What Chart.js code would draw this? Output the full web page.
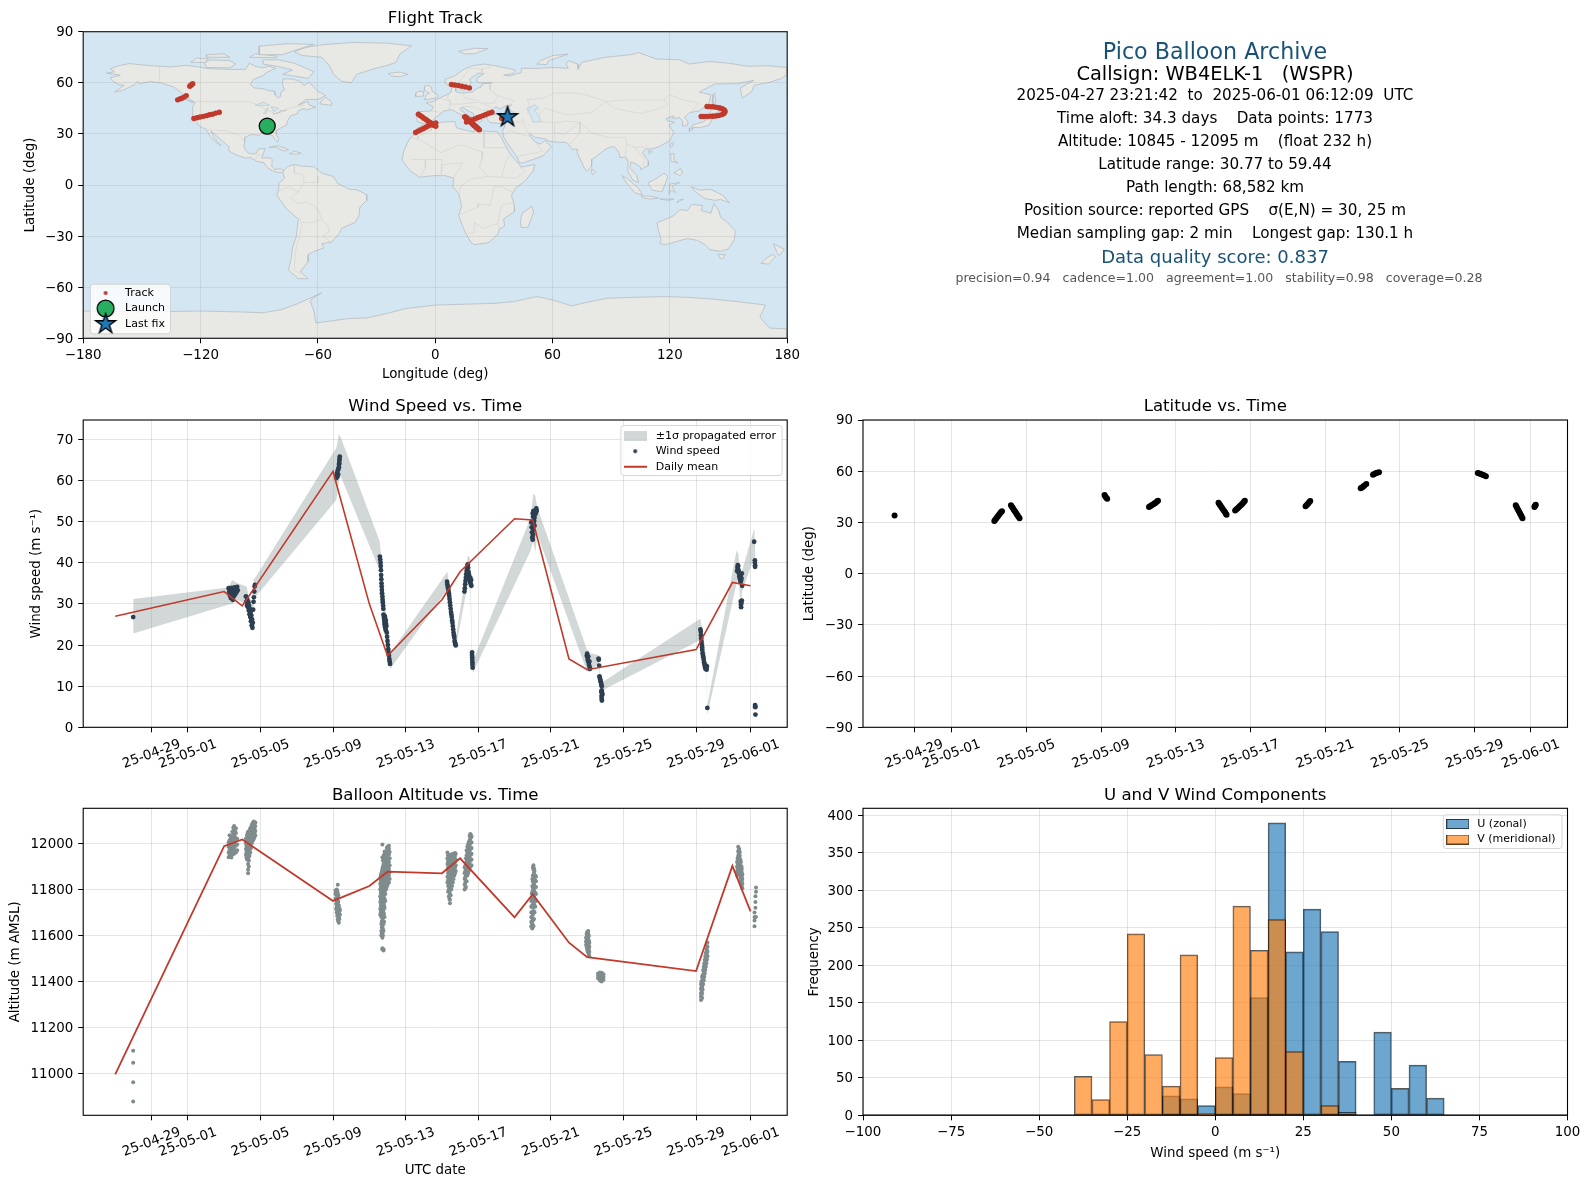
<!DOCTYPE html>
<html><head><meta charset="utf-8">
<style>
html,body{margin:0;padding:0;background:#fff;overflow:hidden;width:1589px;height:1189px;font-family:"DejaVu Sans",sans-serif}
canvas{position:absolute}
.info{position:absolute;left:815px;width:800px;text-align:center;white-space:pre;transform:translateY(-50%);line-height:1}
</style>
<script src="https://cdn.jsdelivr.net/npm/chart.js@4/dist/chart.umd.min.js"></script>
</head><body>
<script>
/* ---------- tick labels ---------- */
const dateTickValues=[-2,0,4,8,12,16,20,24,28,31];
const dateTickLabels=['25-04-29','25-05-01','25-05-05','25-05-09','25-05-13','25-05-17','25-05-21','25-05-25','25-05-29','25-06-01'];
const lonTicks=[-180,-120,-60,0,60,120,180];
const latTicks=[-90,-60,-30,0,30,60,90];
const windTicks=[0,10,20,30,40,50,60,70];
const altTicks=[11000,11200,11400,11600,11800,12000];
const histXTicks=[-100,-75,-50,-25,0,25,50,75,100];
const histYTicks=[0,50,100,150,200,250,300,350,400];

/* ---------- daily means (days since 2025-05-01) ---------- */
const dailyDay=[-4,2,3,8,10,11,14,15,18,19,21,22,28,30,31];
const dailyWind=[27.0,33.0,29.5,62.2,30.0,17.4,31.0,37.8,50.7,50.4,16.6,14.0,18.9,35.2,34.4];
const dailyAlt=[10998,11988,12017,11750,11815,11877,11870,11935,11679,11779,11569,11506,11446,11902,11705];

/* ---------- wind speed samples ---------- */
const windTime=[-3.01,
2.25,2.28,2.32,2.35,2.38,2.42,2.45,2.48,2.52,2.55,2.58,2.62,2.65,2.68,2.72,2.75,
3.2,3.22,3.26,3.28,3.32,3.34,3.36,3.38,3.4,3.42,3.44,3.46,3.48,3.5,3.52,3.54,3.56,3.58,3.6,3.62,3.64,3.66,3.68,3.7,
8.18,8.2,8.22,8.24,8.26,8.28,8.3,8.32,8.33,8.34,8.35,8.36,8.37,
10.58,10.6,10.62,10.63,10.64,10.65,10.66,10.67,10.68,10.69,10.7,10.72,10.73,10.74,10.76,10.77,10.78,10.8,10.82,10.83,10.84,10.85,10.86,10.87,10.88,10.89,10.9,10.91,10.92,10.94,10.96,10.98,11.0,11.02,11.04,11.06,11.08,11.1,11.12,11.14,
14.28,14.3,14.32,14.34,14.36,14.38,14.4,14.42,14.44,14.46,14.48,14.5,14.52,14.54,14.56,14.58,14.6,14.62,14.64,14.66,14.68,14.7,14.72,14.74,14.76,
15.24,15.26,15.28,15.3,15.32,15.34,15.36,15.38,15.4,15.42,15.44,15.46,15.48,15.5,15.52,15.54,15.56,15.58,15.6,15.61,15.62,
15.66,15.66,15.67,15.67,15.68,15.68,15.69,
18.92,18.94,18.96,18.98,19,19.02,19.04,19.06,19.08,19.1,19.12,19.14,19.16,19.18,19.2,19.22,19.0,19.02,19.04,19.06,19.08,19.1,
21.98,22,22.02,22.04,22.06,22.08,22.1,22.12,22.14,22.15,
22.63,22.64,22.66,22.68,22.7,22.72,22.74,22.76,22.78,22.8,22.8,22.82,22.84,22.78,22.79,22.8,22.81,
28.24,28.26,28.27,28.28,28.3,28.32,28.33,28.34,28.36,28.38,28.4,28.42,28.44,28.46,28.48,28.5,28.52,28.54,28.56,28.58,28.6,28.62,
30.26,30.28,30.3,30.32,30.34,30.36,30.38,30.4,30.42,30.44,30.46,30.48,30.5,30.52,30.54,30.46,30.47,30.48,30.5,30.52,
31.2,31.24,31.24,31.25,31.25,31.25,31.26,31.26,31.27];
const windSpeed=[26.8,
33.8,32.9,32,33.5,31.4,33.9,32.6,31,33.2,31.9,34,32.4,33.6,32.8,34.1,33.3,
31.8,30.5,29.6,31,29.2,30.4,28.4,29.6,27.5,28.8,26.8,28,25.8,27.2,24.8,26.2,24.2,25.4,28.6,30.5,31.6,33,34.2,34.6,
60.6,61.2,61.8,60.9,62.4,61.5,62.8,63.2,63.8,64.2,64.8,65.3,65.8,
41.5,40.8,40,39.2,38.2,37,36,35,34.2,33.4,32.6,31.8,31,30.4,29.6,28.8,27.4,26.8,26.2,25.6,25,27,24.4,26.4,25.8,24,26,23.6,25.2,24.6,23,22,21,20,19,18.2,17.4,16.6,16,15.4,
35.4,34.8,34.2,33.8,33.2,32.6,32,31.2,30.4,29.6,28.8,28,27.4,26.8,26,25.4,24.6,23.8,23,22.4,21.8,21,20.6,20.2,19.9,
33,33.8,34.8,35.6,36.4,37.2,38,38.6,39.2,39.6,38.8,37.8,37.2,36.6,36,35.4,36.4,35,34.6,35.8,34.4,
18.2,17.6,17,16.4,15.8,15.2,14.5,
49.8,48.6,47.4,46.2,45.6,46.8,48,49.2,50.2,51,51.8,52.4,52,52.8,53.2,52.6,52,51.2,52.6,50,51.6,49,
17.4,17.9,16.9,16.3,17.2,15.8,15.2,16,14.6,14.2,
16.7,16.4,15,12.4,12,11.6,11.2,10.8,10.4,10,9,8.4,8,8.6,7.6,7,6.5,
23.8,23.2,22.4,21.6,20.8,20,19.4,18.8,18,17.4,17,16.4,15.8,15.4,15,14.6,14.2,15,14.4,14,14.8,4.7,
38,38.8,39.4,39.2,38.2,37.4,36.6,37,36,35.4,36.8,35.6,36.2,37.4,34.4,30.6,29.8,29.2,30.2,30.8,
45.1,40.6,40,39.4,39,5.4,5.1,4.9,3.1];

/* ---------- propagated-error envelope ---------- */
const bandTime=[-3.01,2.22,2.45,2.73,3.24,3.38,3.52,3.63,3.69,8.19,8.33,8.42,10.58,10.72,10.86,11.0,11.15,14.3,14.5,14.75,15.28,15.42,15.56,15.65,15.7,18.89,19.03,19.14,19.25,21.98,22.15,22.63,22.71,22.8,22.85,28.23,28.4,28.57,28.62,30.23,30.34,30.48,30.53,31.21,31.26,31.27];
const bandUpper=[31.2,34,35.8,35,34.2,31,29,36,36.2,68,71.3,70.5,45.1,38,30,25,18,37.8,31,21.5,36,41.8,41,20,16,51,56.8,56.3,53.5,19,18,17.6,13.2,11,11,26.4,22.5,16,5.4,43,42,33,38,48.4,43,7];
const bandLower=[22.8,29.8,30,31,29.7,26,23.2,30,31.5,55.3,60,61,38,31,24,19,14.2,33.5,27,19,31.5,36,33.5,16.5,13.2,43,45.2,42.5,47,13.6,13.5,15.6,11,5.8,9,21.2,17.5,13,3,35,36.5,28,33,41.5,36.5,2.4];

/* ---------- altitude samples: [day, [altitudes]] ---------- */
const altFirst=[[-3.01,[11100,11048,10963,10880]]];
const altMay3=[[2.25,[11940,11960,11985,12005]],[2.35,[11945,11970,11995,12020]],[2.45,[11950,11975,12000,12025,12050]],[2.55,[11955,11980,12010,12035,12060,12075]],[2.65,[11960,11990,12020,12045,12065]],[2.72,[11970,11995,12020]],[2.3,[11950,11972,11990,12012,12035]],[2.4,[11938,11958,11982,12008,12030]],[2.5,[11965,11988,12012,12040,12068]],[2.6,[11968,12000,12028,12052]]];
const altMay4=[[3.2,[11950,11975,12000,12020]],[3.26,[11930,11955,11985,12010,12035]],[3.32,[11870,11885,11910,11935,11965,11990,12020,12050]],[3.4,[11945,11970,12000,12030,12055]],[3.48,[11980,12005,12030,12050,12070]],[3.56,[12010,12030,12050,12070,12085]],[3.64,[12020,12040,12060,12080,12095]],[3.72,[12035,12055,12075,12090]],[3.23,[11940,11962,11988,12012]],[3.29,[11945,11975,12000,12028,12045]],[3.36,[11900,11925,11955,11985,12010,12040]],[3.44,[11960,11990,12015,12045,12065]],[3.52,[12000,12022,12042,12062,12080]],[3.6,[12015,12035,12058,12078,12092]],[3.68,[12028,12048,12068,12088]]];
const altMay9=[[8.14,[11760,11780,11795]],[8.2,[11700,11725,11750,11775,11800]],[8.26,[11670,11690,11715,11740,11765,11785,11820]],[8.32,[11655,11680,11705,11730]],[8.38,[11690,11710]],[8.17,[11715,11738,11762,11788]],[8.23,[11685,11708,11732,11758,11795]],[8.29,[11662,11698,11722,11748,11775]],[8.35,[11672,11695,11718]]];
const altMay11=[[10.6,[11690,11715,11745,11770,11800,11825,11850]],[10.66,[11600,11620,11650,11680,11705,11735,11760,11790,11820,11845,11870]],[10.72,[11540,11545,11590,11610,11640,11665,11690,11720,11750,11780,11810,11840,11865,11890,11940,11995]],[10.78,[11535,11540,11620,11650,11680,11710,11740,11770,11800,11830,11860,11885,11910,11935]],[10.84,[11680,11720,11760,11790,11815,11840,11865,11890,11915,11945,11965]],[10.92,[11800,11825,11850,11875,11900,11925,11950]],[11.0,[11820,11845,11870,11895,11920,11945,11970,11985]],[11.08,[11830,11860,11890,11920,11950,11975,11990]],[10.63,[11700,11728,11758,11785,11812,11838,11860]],[10.69,[11610,11635,11662,11695,11725,11752,11782,11812,11835,11858,11880]],[10.75,[11600,11628,11655,11675,11702,11735,11765,11795,11822,11850,11875,11900,11925]],[10.81,[11660,11695,11730,11755,11785,11815,11845,11872,11898,11925,11950]],[10.88,[11750,11780,11805,11832,11858,11882,11908,11932,11958]],[10.96,[11810,11838,11862,11888,11912,11938,11962,11980]],[11.04,[11828,11852,11882,11908,11932,11958,11982]],[11.12,[11845,11875,11905,11935,11962]]];
const altMay15=[[14.3,[11830,11855,11885,11910,11935,11960]],[14.38,[11770,11800,11825,11850,11880,11905,11930]],[14.44,[11740,11755,11780,11810,11840,11865,11895,11920,11945]],[14.52,[11800,11830,11860,11890,11915,11940]],[14.6,[11830,11860,11885,11910,11935,11955]],[14.68,[11860,11885,11910,11935,11955]],[14.76,[11880,11905,11930,11955]],[14.34,[11790,11815,11840,11870,11895,11922,11948]],[14.41,[11760,11790,11815,11845,11872,11900,11925,11950]],[14.48,[11775,11815,11850,11878,11905,11930,11950]],[14.56,[11815,11845,11872,11900,11925,11948]],[14.64,[11845,11872,11898,11922,11945]],[14.72,[11870,11895,11920,11945,11958]]];
const altMay16=[[15.25,[11800,11820,11845,11870,11895]],[15.32,[11810,11835,11860,11885,11910,11935]],[15.4,[11860,11885,11910,11935,11960,11985]],[15.48,[11880,11905,11930,11955,11980,12005]],[15.56,[11900,11925,11950,11975,12000,12020,12040]],[15.63,[11905,11930,11955,11980,12005,12030]],[15.28,[11805,11828,11852,11878,11902]],[15.36,[11835,11872,11898,11922,11948,11970]],[15.44,[11870,11895,11920,11945,11970,11995]],[15.52,[11890,11915,11940,11965,11990,12012,12032]],[15.6,[11902,11928,11952,11978,12002,12025,12036]]];
const altMay20=[[18.92,[11640,11660,11680,11700,11725,11750]],[18.98,[11630,11650,11675,11700,11730,11760,11790,11815,11845]],[19.04,[11640,11670,11700,11740,11770,11800,11830,11860,11885,11905]],[19.1,[11700,11730,11760,11790,11815,11840,11860,11880]],[19.18,[11750,11780,11810,11835,11855]],[18.95,[11635,11655,11678,11702,11728,11755,11782]],[19.01,[11645,11665,11690,11720,11750,11780,11808,11835,11860,11895]],[19.07,[11672,11705,11735,11765,11795,11825,11850,11872,11892]],[19.14,[11725,11755,11785,11812,11838,11860]]];
const altMay23=[[21.94,[11560,11575,11590]],[22.0,[11540,11560,11580,11600,11615]],[22.06,[11525,11545,11565,11585,11605,11620]],[22.12,[11510,11530,11550,11570]],[21.97,[11550,11570,11590,11608]],[22.03,[11532,11552,11572,11592,11612]],[22.09,[11518,11538,11558,11578,11598]],[22.6,[11415,11425,11435]],[22.7,[11405,11418,11430,11440]],[22.8,[11400,11412,11425,11438]],[22.9,[11408,11420,11432]]];
const altMay29=[[28.27,[11320,11335,11350,11370,11390]],[28.33,[11330,11350,11375,11400,11420]],[28.39,[11390,11410,11430,11450]],[28.45,[11420,11440,11460,11480]],[28.51,[11450,11470,11490,11510]],[28.57,[11480,11500,11520,11540]],[28.63,[11510,11530,11550,11570]],[28.3,[11325,11342,11360,11382,11402]],[28.36,[11365,11385,11408,11428]],[28.42,[11405,11425,11445,11465]],[28.48,[11435,11455,11475,11495]],[28.54,[11465,11485,11505,11525]],[28.6,[11495,11515,11535,11555]]];
const altMay31=[[30.26,[11860,11880,11900,11920]],[30.32,[11880,11905,11925,11945,11965,11985]],[30.38,[11890,11915,11935,11955,11975]],[30.44,[11850,11870,11890,11910,11930]],[30.5,[11820,11840,11860,11880,11900]],[30.55,[11805,11825,11845,11865]],[30.29,[11870,11892,11912,11935]],[30.35,[11885,11910,11930,11952,11972]],[30.41,[11870,11895,11920,11945,11962]],[30.47,[11835,11858,11880,11900,11920]],[30.52,[11812,11832,11852,11872,11890]]];
const altJun1=[[31.22,[11640,11665,11680,11700]],[31.27,[11720,11745,11770]],[31.3,[11680,11790,11808]]];

/* ---------- latitude samples + matching track longitudes ---------- */
const latTime=[-3.05,2.29,2.34,2.39,2.44,2.49,2.54,2.59,2.64,2.7,3.18,3.23,3.28,3.33,3.38,3.43,3.48,3.53,3.58,3.64,8.19,8.23,8.28,8.33,10.57,10.63,10.69,10.75,10.81,10.87,10.93,10.99,11.05,14.29,14.34,14.39,14.44,14.49,14.54,14.59,14.64,14.69,14.72,15.18,15.24,15.3,15.36,15.42,15.48,15.54,15.6,15.65,15.7,18.95,19,19.05,19.1,19.15,19.2,21.9,21.97,22.04,22.1,22.2,22.56,22.63,22.7,22.78,22.88,28.17,28.25,28.33,28.42,28.5,28.6,30.2,30.24,30.28,30.32,30.36,30.4,30.44,30.48,30.52,30.56,31.2,31.22,31.25,31.27];
const latValue=[34,30.8,31.6,32.3,33,33.8,34.5,35.2,35.9,36.5,40,39.2,38.4,37.5,36.7,35.9,35,34.2,33.3,32.5,46,45.2,44.5,43.8,39,39.5,39.9,40.3,40.7,41.2,41.6,42.2,42.7,41.5,40.7,39.9,39.1,38.3,37.5,36.7,35.9,35,34.5,37,37.6,38.2,38.8,39.5,40.1,40.7,41.4,42.1,42.7,39.5,40,40.6,41.2,41.9,42.5,50,50.5,51,51.6,52.5,58,58.4,58.8,59.1,59.4,59,58.7,58.4,58,57.6,57,40,39.2,38.3,37.5,36.7,35.8,35,34.2,33.3,32.5,39,39.5,40,40.4];
const trackLon=[null,-10,-8.8,-7.5,-6.2,-5,-3.8,-2.5,-1.2,0.3,15.5,16.3,17,17.8,18.6,19.4,20.2,21,21.8,22.6,null,null,null,null,-123.4,-121.8,-120.2,-118.6,-117,-115.4,-113.8,-112.2,-110.4,-8.6,-7.6,-6.6,-5.6,-4.6,-3.6,-2.6,-1.6,-0.6,0.3,16,17.4,18.8,20.2,21.6,23,24.4,25.8,27.4,29,null,null,null,null,null,null,-131.7,-130.6,-129.5,-128.4,-127.3,-125.5,-125.1,-124.8,-124.4,-124,8.3,10,11.8,13.6,15.5,17.5,15,15.8,16.6,17.4,18.2,19,19.8,20.6,21.4,22.3,34,35,36,37];
const japanLon=[136,137.5,139,140.5,142,143.5,145,146.5,147.5,148,148.2,147.8,147,146,145,143.5,142,140.5,139];
const japanLat=[40.2,40.2,40.3,40.3,40.4,40.5,40.8,41.3,41.9,42.6,43.3,44,44.6,45.1,45.4,45.7,45.9,46,46.1];
const launchPos=[{x:-85.9,y:34.6}];
const lastFixPos=[{x:37,y:39.9}];

/* ---------- histogram ---------- */
const histCentres=[-97.5,-92.5,-87.5,-82.5,-77.5,-72.5,-67.5,-62.5,-57.5,-52.5,-47.5,-42.5,-37.5,-32.5,-27.5,-22.5,-17.5,-12.5,-7.5,-2.5,2.5,7.5,12.5,17.5,22.5,27.5,32.5,37.5,42.5,47.5,52.5,57.5,62.5,67.5,72.5,77.5,82.5,87.5,92.5,97.5];
const histU=[0,0,0,0,0,0,0,0,0,0,0,0,0,0,0,0,0,26,22,13,38,29,157,390,218,275,245,72,0,111,36,67,23,0,0,0,0,0,0,0];
const histV=[0,0,0,0,0,0,0,0,0,0,0,0,52,21,125,242,81,39,214,2,77,279,220,261,85,0,13,4,0,0,0,0,0,0,0,0,0,0,0,0];

/* ---------- base map: [lon,lat] outlines ---------- */
const landNorthAmerica=[[-168,65.6],[-164,66.5],[-166,68.3],[-162,70],[-156.5,71.3],[-150,70.5],[-141,69.7],[-135,69.3],[-128,70.2],[-124,69.8],[-115,68.2],[-108,68],[-102,67.8],[-97,68],[-95,71.5],[-92,69.7],[-88,68.8],[-85,69.7],[-81.5,68.5],[-86,66.3],[-88,64.2],[-93,62],[-94.5,59],[-92.5,57],[-88,56.5],[-85,55.3],[-82.3,55.1],[-82,52.9],[-80,51.2],[-79,52],[-79,54.5],[-77,56],[-78,58.5],[-78,62.3],[-73,62.2],[-69.5,61],[-67,58.5],[-64.5,60.2],[-62,57.5],[-60,55],[-56,52.5],[-60,50.2],[-66,50.2],[-70,47],[-65,49],[-64.5,47],[-61,45.7],[-66,44],[-67,45],[-70,43.5],[-70.5,41.7],[-74,40.6],[-75.5,37.5],[-76,35],[-78.5,33.8],[-81,32],[-81.3,30],[-80,26.8],[-80.5,25.2],[-82,26.8],[-83,29],[-85,29.7],[-89,30.2],[-90,29.2],[-94,29.6],[-97.3,28],[-97.5,25],[-97.8,22.2],[-96,19],[-94,18.2],[-91.5,18.5],[-90.5,21],[-87,21.5],[-88,18],[-88.8,15.9],[-84,15.8],[-83.3,14.9],[-83.6,11],[-82,9],[-79.5,9.6],[-77.3,8.6],[-78,7.3],[-80.5,7.3],[-83,8.3],[-85.7,10],[-87.5,13],[-91.5,14],[-94.5,16.2],[-97,15.8],[-101.5,17.5],[-105.5,20],[-105.5,22.5],[-109,26],[-112.5,29.5],[-114.8,31.7],[-112.5,27],[-109.5,23],[-112,25],[-115,28.5],[-117,32.5],[-120.5,34.5],[-122.5,37.5],[-124.2,40.3],[-124,46],[-122.7,48.5],[-125,50],[-128,52.5],[-130.5,54.7],[-133.5,57.5],[-137,58.7],[-140,59.8],[-146,60.8],[-151,59.3],[-152,60.8],[-154,58.7],[-160,55.5],[-164,54.6],[-159,58.5],[-162,59],[-165,61],[-166,63],[-161,64.5]];
const landGreenland=[[-72,78.2],[-66,80.8],[-58,82.3],[-42,83.7],[-25,83.3],[-12,81.7],[-18,77],[-20,72],[-25,70],[-32,68],[-40,65],[-43,60],[-48,61],[-52,65],[-54,70],[-58,75],[-68,76]];
const landBaffin=[[-80,73.5],[-72,71.5],[-67,69],[-62,66.5],[-65,62.5],[-72,64],[-78,65],[-73,67.5],[-80,69.5],[-88,71],[-88,73.5]];
const landVictoria=[[-117,69],[-105,68.8],[-102,71],[-105,73],[-115,73.5],[-118,71.5]];
const landEllesmere=[[-90,76.5],[-78,76.5],[-72,79],[-62,82.5],[-75,83],[-90,81.5]];
const landBanks=[[-125,72],[-118,72],[-116,74],[-122,74.5]];
const landDevon=[[-95,75],[-81,74.7],[-81,75.7],[-92,77]];
const landMelville=[[-117,75],[-105,75],[-108,77],[-117,76.5]];
const landNewfoundland=[[-59,47.7],[-53,46.7],[-53,48.7],[-56,51.5],[-58,49.5]];
const landVancouver=[[-128,50.7],[-123.5,48.4],[-125,48.7]];
const landCuba=[[-85,22],[-80,23],[-75,20.7],[-77.5,19.9],[-82,22.5]];
const landHispaniola=[[-74.5,18.3],[-72,19.9],[-68.5,18.6],[-71,18]];
const landSouthAmerica=[[-77.3,8.6],[-75.5,10.8],[-72,12],[-68,11],[-62,10.7],[-58,7],[-52,5],[-50,1],[-44,-2.5],[-40,-2.8],[-35.2,-5.5],[-35,-9],[-38.5,-13],[-39,-18],[-41,-22],[-48,-25.5],[-48.7,-28],[-53,-33.5],[-58,-34.5],[-57,-37],[-62,-39],[-65,-41],[-65,-45],[-69,-51],[-65,-55],[-70,-55],[-75,-50],[-73.5,-42],[-73,-37],[-71,-30],[-70,-20],[-76,-14],[-81,-6],[-80,-2.5],[-80,1],[-77,4],[-78,7.3]];
const landAfrica=[[-6,35.8],[-2,35.2],[3,36.9],[10,37.3],[11,33.5],[15,32.3],[20,31],[20,32.8],[25,31.7],[32,31.2],[32.5,30],[34,27.5],[35.5,24],[37,21],[38.5,18],[43,12],[44,10.5],[51,12],[50,8],[46,2.5],[41,-2],[39,-6],[40.5,-12],[40.5,-15.5],[35,-20],[35.5,-24],[32.7,-26],[32,-29],[27,-34],[20,-35],[18.2,-33.5],[15,-27],[12,-18],[13.5,-12],[12,-5],[9,-1],[9.5,4],[5,5.5],[0,5.5],[-5,5],[-8,4.5],[-13,8.5],[-17,14.7],[-16,20],[-13,27.5],[-10,30],[-9.5,33]];
const landEurasia=[[-9,37],[-9.5,39],[-9,43],[-2,43.5],[-1,46],[-4.7,48.3],[-1.5,48.8],[1.5,50.5],[4,52],[7,53.5],[8.5,55],[8.2,57],[10.6,57.7],[10.5,55],[12,54.2],[14,54],[19,54.5],[21,56.5],[23.5,57.5],[24,59.3],[29,60],[23,60],[21,61],[21.5,63],[25,65.3],[22,65.7],[17.5,62],[18.5,60],[16.5,57],[14,55.5],[12.8,56],[11,59],[8,58],[5.2,59.5],[5,62],[10,64],[14,67.5],[19,70],[25,71],[31,70],[41,67.5],[40,65.5],[35,64.5],[38,64],[44,66],[44,68.5],[53,68.5],[60,69],[68,68.5],[67,71],[68,73],[73,71],[73,68],[75,72],[81,73.5],[87,75],[100,76.5],[104,77.7],[113,74],[125,73.5],[130,71],[140,72.5],[150,71.5],[160,69.7],[170,70],[180,69],[180,65],[177,62.5],[170,60],[163,58.5],[162,55],[157,51],[156,57],[163,61.5],[155,59.5],[143,59.3],[135,54.5],[141,53],[140,48],[135,43.5],[130,42.5],[127.5,39.7],[129.3,37],[129,35.2],[126.5,34.5],[126.5,37.5],[125,39.5],[121.5,39],[122,40.5],[118,39],[119,37.5],[122.5,37],[119.5,35],[122,31],[120,26],[114,22.3],[110,21],[108,21.5],[106,19],[109,14],[109,11.5],[105,9],[105,10.5],[102.5,12.5],[100,13.5],[99.5,10],[103,5.5],[104,1.3],[101,3],[98.5,8],[98.5,14],[97,16.5],[94.5,16],[94,19],[91.5,22.7],[89,22],[86.5,20.5],[82,16.5],[80,15],[80,11],[77.5,8],[76,10.5],[73,18],[72.7,21],[70,21],[67,25],[61.5,25.2],[57,26],[56.5,27],[51,28],[48.5,30],[48,29.5],[50,26.5],[51.5,25],[54,24],[56,26],[59.5,22.5],[55,17],[45,13],[43,13],[42,16.5],[39,21],[35,28],[34.5,31.3],[36,36],[32,36.2],[28,36.7],[26.5,38.5],[26.5,40],[29,41],[33,42],[38,41],[41.5,41.5],[39,43.5],[37,45],[39,47],[35,46],[33.5,44.5],[31,46],[28,43],[26,40.5],[23,40.3],[24,38],[22.5,36.5],[20,39.5],[19.5,42],[13.5,45.7],[12.5,44.5],[16,41.5],[18.5,40],[16,38],[15.5,40],[11,42.5],[8.5,44.3],[4,43.3],[3,42],[0,39.5],[-2,36.8],[-5.5,36]];
const landMadagascar=[[49.5,-12.5],[50.3,-16],[47.5,-24.8],[44,-25],[43.5,-21],[44.5,-16.5]];
const landBritain=[[-5.5,50],[1.3,51.2],[1.7,52.7],[-1.5,55],[-2,57.5],[-3.5,58.5],[-5.5,58],[-5.5,55.5],[-3,54],[-4.5,52.8],[-5,51.7]];
const landIreland=[[-10,52],[-6,52.2],[-6,55],[-8.5,55],[-10,54]];
const landIceland=[[-24,65.5],[-18,66.3],[-14,65],[-18,63.5],[-22.5,64]];
const landSvalbard=[[12,78.5],[20,80.3],[27,80],[20,77],[15,77]];
const landNovaya=[[52,71],[57,70.7],[58,73],[68,76.8],[60,76],[54,73]];
const landHonshu=[[130.8,34],[135,33.6],[140,35],[142,39.5],[141,41.5],[139.5,39],[137,37],[132,35.5]];
const landHokkaido=[[140,42],[143,42],[145.5,43.3],[142,45.5],[141,43.5]];
const landKyushu=[[130,31.5],[132,33],[130,33.5]];
const landSakhalin=[[142,46],[143.5,49],[143,54],[142,53],[142,49]];
const landTaiwan=[[121,25],[122,24.5],[120.8,22],[120,23]];
const landHainan=[[109,20],[111,19.8],[109.5,18.2]];
const landSriLanka=[[80,9.5],[82,7.5],[80.5,6],[79.8,8]];
const landLuzon=[[120.5,18.5],[122.2,18.3],[122,15],[124,13],[120.5,14]];
const landMindanao=[[122,7],[125.5,9.7],[126.5,7],[125,5.7]];
const landSumatra=[[95.3,5.5],[98,4],[104,-2],[106,-6],[102,-4.5],[98,1]];
const landJava=[[105.5,-6.5],[110,-6.5],[114.5,-7.7],[110,-8.3],[106,-7.5]];
const landBorneo=[[109,1.5],[111.5,2.8],[114,4.5],[117,7],[119,5],[117.7,1],[116,-4],[111,-3],[109.5,-0.5]];
const landSulawesi=[[119.5,-5.5],[120,0.5],[125,1.5],[121,-0.8],[123,-4.5],[120.8,-3]];
const landNewGuinea=[[131,-1],[135,-3],[141,-2.6],[147,-6],[150.5,-10.5],[146,-8.5],[143,-9],[138,-8],[133,-4]];
const landTimor=[[123.5,-10.3],[127,-8.4],[125,-8.5]];
const landSunda=[[115,-8.3],[122,-8.3],[119,-9]];
const landAustralia=[[113.5,-22],[114,-26],[115.5,-32],[115,-34.5],[118,-35],[124,-33],[129,-31.5],[134,-32.5],[138,-35],[140.5,-38],[146,-39],[150,-37.5],[153,-32],[153.5,-27],[149,-21.5],[146,-19],[145,-15],[142.5,-11],[141,-16.5],[136,-15],[136.8,-12],[131,-11.5],[129,-15],[125,-14.5],[122,-18],[117,-20.5]];
const landTasmania=[[144.7,-40.7],[148.3,-41],[147,-43.5],[145.5,-42.8]];
const landNZNorth=[[173,-34.5],[178.5,-37.7],[176,-41.5],[174.8,-39.8]];
const landNZSouth=[[172.5,-40.7],[174,-42],[170.5,-46.5],[166.5,-46],[170,-42.5]];
const landAntarctica=[[-180,-90],[-180,-74],[-150,-74.5],[-120,-74],[-100,-74.5],[-88,-75],[-78,-73],[-70,-69.5],[-58,-63.3],[-62,-66],[-64,-68],[-62,-74],[-61,-81],[-45,-78.5],[-35,-78],[-25,-75.5],[-15,-72.5],[0,-70.5],[15,-70],[30,-69.5],[40,-68.5],[52,-65.5],[60,-67.5],[70,-71],[75,-69.5],[88,-66.5],[100,-66],[117,-65.5],[130,-66],[142,-67],[155,-68.5],[169,-70.5],[166,-77.5],[171,-84],[180,-84.5],[180,-90]];
const waterCaspian=[[47,45],[51,47],[53,45],[50.5,44],[53,41],[54,37],[50,37],[49,40]];
const waterSuperior=[[-92,46.7],[-88,48.7],[-84.7,46.8]];
const waterMichigan=[[-87.8,42],[-85.5,45.5],[-86.5,42]];
const waterHuron=[[-84,46],[-80,45],[-82.5,43]];
const waterErie=[[-83,41.6],[-79,42.8],[-80,42.3]];
const waterOntario=[[-79.5,43.5],[-76,44],[-77,43.3]];
const borderLines=[
[[-123,49],[-95,49],[-82,42],[-75,45],[-67,47]],[[-141,60],[-141,69.7]],[[-117,32.5],[-106.5,31.8],[-101,29.5],[-97.5,26]],[[-92,14.5],[-91,17.5],[-89,17.8],[-88.2,18]],
[[-72,11.5],[-72,7],[-67.5,6],[-67,1.5]],[[-60,5],[-60,1.5],[-67,1.5],[-70,-4],[-74,-7.5],[-70,-11],[-65,-10],[-60,-14],[-58,-20],[-55,-24],[-54,-27],[-57.5,-30],[-53.5,-33.5]],[[-69.5,-18],[-68,-24],[-70,-32],[-71.5,-40],[-72,-50],[-69,-52]],[[-68,-22],[-62.5,-22],[-58,-20]],[[-80,-3.5],[-75,-1],[-70,-4]],
[[-2,35],[-2,32],[-8.7,28.5],[-8.7,27],[-13,27.5]],[[-8.7,27],[3,19],[12,23.5]],[[25,31.7],[25,22],[36.8,22]],[[12,23.5],[15,23],[24,19.5],[24,15.5]],[[24,15.5],[22.5,11],[27,5],[34,4.5],[36,14],[38.5,18]],[[3,6.3],[3.5,12],[14,13],[9.5,4.2]],[[12,-5],[13,-1],[18,3.5],[27,5]],[[30,-1],[29,-8],[28,-12],[22,-11],[22,-13],[12,-17.5]],[[30,-1],[34,-1],[40,-4.5]],[[34,4.5],[41,4],[46,8],[43,11]],[[16.5,-28.5],[20,-28],[20,-22],[25,-25.5],[32,-22.5],[33,-26]],[[40.5,-10.5],[34.5,-11.5],[33,-16],[32,-22.5]],[[-12,15],[-5,15],[-5,10],[-8,4.5]],[[-5,15],[3.5,15],[3,6.3]],
[[28,59],[28,56],[32,52.5],[40,49.5],[38,47]],[[47,42],[48.5,45.5],[47,50],[55,51],[61,54],[71,54],[77,53],[87,49],[98,50],[107,50],[117,50],[120,53],[127,50],[135,48],[131,43]],[[53,41],[56,45],[62,43],[68,41],[74,42],[80,42.5],[87,49]],[[87,49],[92,45],[105,42],[112,44],[119,47],[117,50]],[[74,37],[80,30.5],[88,28],[97,28],[98,24],[102,22],[106,22.5],[108,21.5]],[[74,37],[74,31],[70,25],[68,24]],[[61.5,25.2],[61,31],[61,36.5],[54,37.3]],[[48,30],[46,34],[44.5,39.5]],[[61,36.5],[67,37.5],[74,37]],[[61,31],[66,29.7],[70,33],[74,37]],[[35,29.5],[38,32],[46,29],[48,28.5]],[[52,24],[55,20],[52,19],[43,17]],[[36,36.5],[42,37],[44.5,37]],[[98,24],[97,18],[99,14]],[[102,22],[105,18],[107,15],[106,11]],[[12,59],[12.5,61],[18,68.5],[24,68],[28.5,69.5]],[[24,68],[24,66]],[[-1.8,43.4],[3,42.5]],[[-7,37],[-7,42],[-9,42]],[[2.5,51],[8,49],[7,44]],[[7,53.5],[6,51],[8,49]],[[14,54],[15,51],[22,49.5],[24,48],[29,45.5]],[[24,48],[30,48],[32,52.5]],[[7,47.5],[13,47.5],[17,48],[22,48.5]],[[13.5,46],[19,46],[23,44],[28,44]],[[21,41],[26,41.5]]];
const landShapes=[landNorthAmerica,landGreenland,landBaffin,landVictoria,landEllesmere,landBanks,landDevon,landMelville,landNewfoundland,landVancouver,landCuba,landHispaniola,landSouthAmerica,landAfrica,landEurasia,landMadagascar,landBritain,landIreland,landIceland,landSvalbard,landNovaya,landHonshu,landHokkaido,landKyushu,landSakhalin,landTaiwan,landHainan,landSriLanka,landLuzon,landMindanao,landSumatra,landJava,landBorneo,landSulawesi,landNewGuinea,landTimor,landSunda,landAustralia,landTasmania,landNZNorth,landNZSouth,landAntarctica];
const waterShapes=[waterCaspian,waterSuperior,waterMichigan,waterHuron,waterErie,waterOntario];

/* ---------- info panel text: text, y, size, colour, x-centre ---------- */
const infoLines=[
['Pico Balloon Archive',50.7,22.2,'#1a5276',1215],
['Callsign: WB4ELK-1   (WSPR)',74.3,19.4,'#000',1215],
['2025-04-27 23:21:42  to  2025-06-01 06:12:09  UTC',96.3,15.2,'#000',1215],
['Time aloft: 34.3 days    Data points: 1773',119.3,15.2,'#000',1215],
['Altitude: 10845 - 12095 m    (float 232 h)',142.3,15.2,'#000',1215],
['Latitude range: 30.77 to 59.44',165.3,15.2,'#000',1215],
['Path length: 68,582 km',188.3,15.2,'#000',1215],
['Position source: reported GPS    \u03c3(E,N) = 30, 25 m',211.3,15.2,'#000',1215],
['Median sampling gap: 2 min    Longest gap: 130.1 h',234.3,15.2,'#000',1215],
['Data quality score: 0.837',256.7,18,'#1a5276',1215],
['precision=0.94   cadence=1.00   agreement=1.00   stability=0.98   coverage=0.28',278,12.57,'#555',1219]];

/* ---------- colours ---------- */
const RED='#c0392b',NAVY='#2c3e50',GREY='#7f8c8d',GREEN='#27ae60',STARBLUE='#1f77b4';
const BAND='rgba(127,140,141,0.35)',OCEAN='#d4e6f1',LAND='#e8e8e4';
const GRID='rgba(176,176,176,0.34)';

/* ---------- helpers ---------- */
Chart.defaults.font.family='"DejaVu Sans"';
Chart.defaults.color='#000';
const xy=(xs,ys)=>xs.map((x,i)=>({x,y:ys[i]}));
const pairs=a=>a.map(p=>({x:p[0],y:p[1]}));
const columns=(...cl)=>cl.flat().flatMap(([t,vals])=>vals.map(v=>({x:t,y:v})));
const minusFix=v=>String(v).replace('-','\u2212');

function icon(w,h,draw){const c=document.createElement('canvas');c.width=w;c.height=h;const g=c.getContext('2d');draw(g,w,h);return c;}
function dotIcon(r,fill,stroke){const s=Math.ceil(2*r+4);return icon(s,s,(g)=>{g.beginPath();g.arc(s/2,s/2,r,0,Math.PI*2);g.fillStyle=fill;g.fill();if(stroke){g.lineWidth=1.3;g.strokeStyle=stroke;g.stroke();}});}
function starIcon(R,fill,stroke){const s=Math.ceil(2*R+5);return icon(s,s,(g)=>{g.beginPath();for(let i=0;i<10;i++){const r=i%2?R*0.382:R,a=-Math.PI/2+i*Math.PI/5;g[i?'lineTo':'moveTo'](s/2+r*Math.cos(a),s/2+r*Math.sin(a));}g.closePath();g.fillStyle=fill;g.fill();g.lineWidth=1.3;g.lineJoin='miter';g.strokeStyle=stroke;g.stroke();});}
function patchIcon(w,h,fill,stroke){return icon(w,h,(g)=>{g.fillStyle=fill;g.fillRect(0,0,w,h);if(stroke){g.strokeStyle=stroke;g.lineWidth=1;g.strokeRect(.5,.5,w-1,h-1);}});}
function lineIcon(w,color){return icon(w,4,(g)=>{g.fillStyle=color;g.fillRect(0,1,w,2);});}

function makePanel(cfg){
  const a=cfg.area,cx=cfg.canvasLeft,cy=Math.floor(a.top-40);
  const cw=Math.ceil(a.right+30-cx),ch=Math.min(Math.ceil(a.bottom+72),1189)-cy;
  const c=document.createElement('canvas');
  c.width=cw;c.height=ch;c.style.left=cx+'px';c.style.top=cy+'px';c.style.width=cw+'px';c.style.height=ch+'px';
  document.body.appendChild(c);
  const tickFont={size:13.4},titleFont={size:13.4,lineHeight:1.2};
  const yLeft=cfg.yTitleX-8.04-cx;
  const xH=cfg.xTitleY? cfg.xTitleY-a.bottom+8.04:50;
  const scale=(axis,s)=>({
    type:'linear',min:s.min,max:s.max,bounds:'data',offset:false,
    afterBuildTicks:sc=>{sc.ticks=s.ticks.map(v=>({value:v}));},
    afterFit:sc=>{ if(axis==='y') sc.width=a.left-cx-yLeft; else sc.height=xH; },
    border:{display:false},
    grid:Object.assign({display:true,offset:false,color:GRID,lineWidth:1,tickColor:'#000',tickLength:5,tickWidth:1},cfg.gridExtra||{}),
    ticks:{font:tickFont,color:'#000',padding:axis==='x'?4:5,labelOffset:axis==='y'?1:0,autoSkip:false,includeBounds:false,
      minRotation:(axis==='x'&&s.rotate)?20:0,maxRotation:(axis==='x'&&s.rotate)?20:0,
      callback:(v,i)=>s.labels?s.labels[i]:minusFix(s.ticks[i])},
    title:s.title?{display:true,text:s.title,font:titleFont,color:'#000',padding:0}:{display:false}
  });
  const plugin={id:'panelFrame',
    beforeLayout(chart){
      if(chart.legend&&cfg.legend){
        const L=cfg.legend,pad=L.rowGap-11;
        chart.legend._layers=()=>[{z:5,draw(){
          const g=chart.ctx,[x0,y0,x1,y1]=L.frame;
          g.save();g.beginPath();g.roundRect(x0-cx+.5,y0-cy+.5,x1-x0,y1-y0,3);
          g.fillStyle='rgba(255,255,255,0.8)';g.fill();g.strokeStyle='rgba(204,204,204,0.8)';g.lineWidth=1;g.stroke();g.restore();
          const lg=chart.legend;
          lg.left=L.iconX-cx-L.boxW/2-pad;lg.top=L.firstRow-cy-5.5-pad;
          lg.right=x1-cx+30;lg.bottom=y1-cy+60;lg.width=lg.right-lg.left;lg.height=lg.bottom-lg.top;
          lg.draw();
        }}];
      }
    },
    beforeDraw(chart){
      if(cfg.xSpec.rotate){
        const sc=chart.scales.x,items=sc.getLabelItems(chart.chartArea);
        items.forEach((it,i)=>{
          it.textOffset=0;
          it.options.textAlign='center';it.options.textBaseline='middle';
          it.options.translation=[sc.getPixelForValue(sc.ticks[i].value),chart.chartArea.bottom+27];
        });
      }
      if(cfg.background){
        const {left,top,width,height}=chart.chartArea,g=chart.ctx;
        g.save();g.fillStyle=cfg.background;g.fillRect(left,top,width,height);g.restore();
      }
    },
    afterDatasetsDraw(chart){
      const {left,top,right,bottom}=chart.chartArea,g=chart.ctx;
      g.save();g.strokeStyle='#000';g.lineWidth=1.1;g.strokeRect(left,top,right-left,bottom-top);g.restore();
    }
  };
  const legendOpt=cfg.legend?{
    display:true,position:'chartArea',align:'start',
    labels:{font:{size:11},color:'#000',usePointStyle:true,pointStyleWidth:cfg.legend.boxW,boxHeight:11,padding:cfg.legend.rowGap-11,
      generateLabels:()=>cfg.legend.items.map((it,i)=>({text:it[0],pointStyle:it[1],fontColor:'#000',lineWidth:0,hidden:false,datasetIndex:i}))}
  }:{display:false};
  return new Chart(c,{
    type:cfg.type||'line',
    data:{datasets:cfg.datasets},
    plugins:[plugin],
    options:{
      responsive:false,animation:false,devicePixelRatio:1,events:[],
      layout:{padding:{left:yLeft,top:a.top-cy-19.92-2.9,right:cw-(a.right-cx),bottom:Math.max(ch-(a.bottom-cy)-xH,0)}},
      scales:{x:scale('x',cfg.xSpec),y:scale('y',cfg.ySpec)},
      elements:{line:{tension:0},point:{borderWidth:0}},
      plugins:{
        title:{display:true,fullSize:false,text:cfg.title,font:{size:16.6,weight:'normal',lineHeight:1.2},color:'#000',padding:{top:0,bottom:2.9}},
        legend:legendOpt,tooltip:{enabled:false}
      }
    }
  });
}

/* ---------- panel geometry ---------- */
const LEFT=83.2,RIGHT=787.2,LEFT2=863,RIGHT2=1567.5;

/* Flight track map */
const starBig=starIcon(10.5,STARBLUE,'#000');
const trackPts=xy(trackLon,latValue).filter(p=>p.x!==null).concat(xy(japanLon,japanLat));
const mapSets=[];
mapSets.push({label:'Last fix',data:lastFixPos,showLine:false,pointStyle:starBig,pointRadius:10,order:1});
mapSets.push({label:'Launch',data:launchPos,showLine:false,pointStyle:'circle',pointRadius:8,pointBackgroundColor:GREEN,pointBorderColor:'#000',pointBorderWidth:1.3,order:2});
mapSets.push({label:'Track',data:trackPts,showLine:false,pointRadius:2.7,pointBackgroundColor:RED,order:3});
borderLines.forEach(b=>mapSets.push({data:pairs(b),pointRadius:0,borderColor:'rgba(205,205,202,0.7)',borderWidth:0.7,order:10}));
waterShapes.forEach(s=>mapSets.push({data:pairs(s.concat([s[0]])),pointRadius:0,fill:'shape',backgroundColor:OCEAN,borderColor:'rgba(180,190,195,0.8)',borderWidth:0.7,order:11}));
landShapes.forEach(s=>mapSets.push({data:pairs(s.concat([s[0]])),pointRadius:0,fill:'shape',backgroundColor:LAND,borderColor:'rgba(182,190,195,0.9)',borderWidth:0.9,order:12}));
makePanel({
  canvasLeft:0,area:{left:LEFT,right:RIGHT,top:31.7,bottom:338.3},title:'Flight Track',background:OCEAN,
  gridExtra:{z:1,color:'rgba(128,128,128,0.2)',lineWidth:0.8,borderDash:[3,2]},
  yTitleX:30.6,xTitleY:375,
  xSpec:{min:-180,max:180,ticks:lonTicks,title:'Longitude (deg)'},
  ySpec:{min:-90,max:90,ticks:latTicks,title:'Latitude (deg)'},
  datasets:mapSets,
  legend:{frame:[89.8,283.7,170,333.3],iconX:105.6,firstRow:293,rowGap:15.5,boxW:28,
    items:[['Track',dotIcon(2,RED)],['Launch',dotIcon(8.4,GREEN,'#000')],['Last fix',starBig]]}
});

/* Wind speed */
makePanel({
  canvasLeft:0,area:{left:LEFT,right:RIGHT,top:420,bottom:727.3},title:'Wind Speed vs. Time',
  yTitleX:36.7,
  xSpec:{min:-5.763,max:33.02,ticks:dateTickValues,labels:dateTickLabels,rotate:true},
  ySpec:{min:0,max:74.7,ticks:windTicks,title:'Wind speed (m s\u207b\u00b9)'},
  datasets:[
    {label:'Daily mean',data:xy(dailyDay,dailyWind),pointRadius:0,borderColor:RED,borderWidth:1.6,order:1},
    {label:'Wind speed',data:xy(windTime,windSpeed),showLine:false,pointRadius:2.4,pointBackgroundColor:NAVY,order:2},
    {label:'upper',data:xy(bandTime,bandUpper),pointRadius:0,borderWidth:0,order:4},
    {label:'\u00b11\u03c3 propagated error',data:xy(bandTime,bandLower),pointRadius:0,borderWidth:0,fill:'-1',backgroundColor:BAND,order:3}
  ],
  legend:{frame:[620.4,425,781.6,475],iconX:635.2,firstRow:435.7,rowGap:15.5,boxW:30,
    items:[['\u00b11\u03c3 propagated error',patchIcon(23,10,BAND)],['Wind speed',dotIcon(2,NAVY)],['Daily mean',lineIcon(23,RED)]]}
});

/* Latitude */
makePanel({
  canvasLeft:800,area:{left:LEFT2,right:RIGHT2,top:420,bottom:727.3},title:'Latitude vs. Time',
  yTitleX:810,
  xSpec:{min:-4.74,max:32.97,ticks:dateTickValues,labels:dateTickLabels,rotate:true},
  ySpec:{min:-90,max:90,ticks:latTicks,title:'Latitude (deg)'},
  datasets:[{label:'Latitude',data:xy(latTime,latValue),showLine:false,pointRadius:3,pointBackgroundColor:'#000'}]
});

/* Altitude */
makePanel({
  canvasLeft:0,area:{left:LEFT,right:RIGHT,top:808.3,bottom:1115.3},title:'Balloon Altitude vs. Time',
  yTitleX:15.3,xTitleY:1171,
  xSpec:{min:-5.763,max:33.02,ticks:dateTickValues,labels:dateTickLabels,rotate:true,title:'UTC date'},
  ySpec:{min:10820,max:12152,ticks:altTicks,title:'Altitude (m AMSL)'},
  datasets:[
    {label:'Daily mean',data:xy(dailyDay,dailyAlt),pointRadius:0,borderColor:RED,borderWidth:1.8,order:1},
    {label:'Altitude',data:columns(altFirst,altMay3,altMay4,altMay9,altMay11,altMay15,altMay16,altMay20,altMay23,altMay29,altMay31,altJun1),showLine:false,pointRadius:2,pointBackgroundColor:GREY,order:2}
  ]
});

/* Histogram */
const histBlue='rgba(31,119,180,0.65)',histOrange='rgba(255,127,14,0.65)',histEdge='rgba(0,0,0,0.65)';
makePanel({
  type:'bar',canvasLeft:800,area:{left:LEFT2,right:RIGHT2,top:808.3,bottom:1115.3},title:'U and V Wind Components',
  yTitleX:815,xTitleY:1154,
  xSpec:{min:-100,max:100,ticks:histXTicks,title:'Wind speed (m s\u207b\u00b9)'},
  ySpec:{min:0,max:409.5,ticks:histYTicks,title:'Frequency'},
  datasets:[
    {label:'zero',type:'line',data:[{x:-100,y:0},{x:100,y:0}],pointRadius:0,borderColor:'rgba(0,0,0,0.4)',borderWidth:2.4,order:3},
    {label:'V (meridional)',data:xy(histCentres,histV),backgroundColor:histOrange,borderColor:histEdge,borderWidth:1,borderSkipped:false,grouped:false,barPercentage:1,categoryPercentage:1,order:1},
    {label:'U (zonal)',data:xy(histCentres,histU),backgroundColor:histBlue,borderColor:histEdge,borderWidth:1,borderSkipped:false,grouped:false,barPercentage:1,categoryPercentage:1,order:2}
  ],
  legend:{frame:[1442.7,814.3,1561.5,848],iconX:1457.8,firstRow:824,rowGap:15.5,boxW:28,
    items:[['U (zonal)',patchIcon(23,10,'rgba(31,119,180,0.65)','rgba(0,0,0,0.65)')],['V (meridional)',patchIcon(23,10,'rgba(255,127,14,0.65)','rgba(0,0,0,0.65)')]]}
});

/* Info panel */
infoLines.forEach(([t,y,size,color,xc])=>{
  const d=document.createElement('div');d.className='info';d.textContent=t;
  d.style.left=(xc-400)+'px';
  d.style.top=y+'px';d.style.fontSize=size+'px';d.style.color=color;
  document.body.appendChild(d);
});
</script>
</body></html>
